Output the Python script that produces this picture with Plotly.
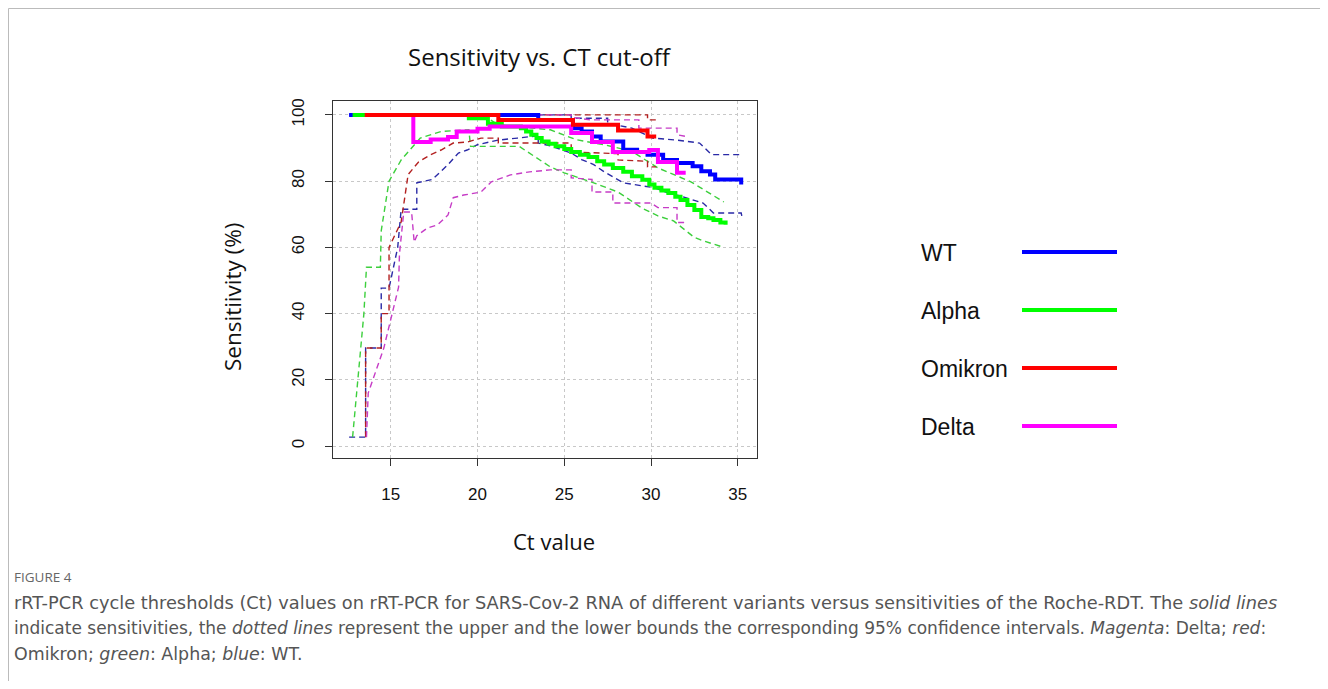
import plotly.graph_objects as go

# ---------------- data ----------------
variants = ["WT", "Alpha", "Omikron", "Delta"]

# Sensitivity step curves (value holds from ct[i] to ct[i+1])
wt_ct = [12.6, 23.5, 25.5, 26.0, 26.6, 27.1, 28.4, 29.2, 29.8, 30.7, 31.5, 32.4, 32.9, 33.4, 33.7, 35.2]
wt_sens = [100, 98.5, 96, 95, 93.5, 92, 89.5, 88.8, 88, 86.4, 85.5, 84.5, 83, 82, 80.5, 79]

alpha_ct = [12.8, 19.5, 20.6, 21.4, 22.5, 22.8, 23.1, 23.4, 23.7, 24.1, 24.5, 25.0, 25.4, 25.9, 26.4,
            26.9, 27.3, 27.8, 28.4, 28.9, 29.5, 29.9, 30.2, 30.6, 31.0, 31.4, 31.7, 32.1, 32.5, 32.9,
            33.3, 33.6, 34.0, 34.3]
alpha_sens = [100, 99, 97.3, 96.5, 96, 95, 94, 93, 92, 91.3, 90.5, 89.7, 88.8, 88, 87.3,
              86, 85, 84, 82.8, 81.5, 80.4, 79, 78, 77.2, 76.4, 75.3, 74.3, 72.8, 71.3, 69.2,
              68.8, 68.3, 67.5, 66.8]

omikron_ct = [13.5, 21.2, 25.5, 28.1, 29.8, 30.3]
omikron_sens = [100, 98.5, 97, 95.3, 93.5, 93.5]

delta_ct = [13.6, 16.3, 17.3, 18.3, 18.8, 20.0, 20.7, 25.4, 26.6, 27.8, 29.9, 30.4, 31.5, 32.0]
delta_sens = [100, 91.8, 92.6, 93.3, 95, 95.8, 96.5, 94.5, 91.8, 88.8, 89.4, 85.8, 82.5, 82.5]

# 95% confidence bounds (polyline points)
wt_lo_ct = [12.6, 13.55, 13.55, 14.45, 14.45, 14.9, 15.4, 15.6, 16.5, 16.5, 17.4, 18.3, 18.9, 19.4, 20.0,
            21.2, 22.3, 23.5, 23.5, 24.3, 25.4, 26.0, 26.7, 27.3, 28.4, 30.2, 31.0, 31.7, 33.0, 33.6,
            35.2, 35.25]
wt_lo = [2.7, 2.7, 29.6, 29.6, 47.7, 47.7, 60, 71.5, 71.5, 79.5, 80.5, 85, 88.5, 89.4, 91,
         92.4, 93, 93.7, 91.5, 90.5, 88.5, 86.5, 85, 82.8, 79.5, 78, 76.4, 75.5, 73.4, 70.4,
         70.4, 69]
wt_hi_ct = [12.6, 25.4, 25.4, 27.5, 27.5, 28.9, 29.5, 30.1, 31.5, 32.8, 33.5, 35.2]
wt_hi = [100, 100, 99, 99, 97.5, 96, 94.5, 93, 92.4, 91.5, 88, 88]

alpha_lo_ct = [12.8, 13.45, 13.6, 14.4, 14.45, 14.9, 15.6, 16.7, 17.9, 19.5, 19.6, 22.4, 24.2, 25.0,
               26.7, 28.1, 29.5, 30.4, 31.3, 32.5, 33.0, 34.2]
alpha_lo = [2.7, 40, 54, 54, 65, 80, 86.4, 93, 95, 95.5, 90.5, 90.5, 84.3, 82.5,
            79.5, 76.7, 71.8, 69.5, 68, 63, 62, 60]
alpha_hi_ct = [12.8, 19.5, 19.6, 20.6, 21.2, 24.2, 25.7, 27.3, 28.9, 30.4, 32.3, 34.2]
alpha_hi = [100, 100, 99.3, 99, 97, 95.5, 92.5, 91, 89, 84, 79.8, 73.7]

omikron_lo_ct = [13.55, 13.55, 14.45, 14.45, 14.9, 14.9, 15.6, 16.0, 16.6, 17.3, 17.9, 18.6, 19.4, 20.2,
                 21.2, 21.2, 25.4, 25.4, 28.1, 28.1, 29.8, 29.8, 30.3]
omikron_lo = [2.7, 29.6, 29.6, 40, 40, 60, 67.7, 82, 85.8, 88, 89.4, 91.5, 91.8, 93,
              93, 91.5, 91.5, 88.8, 88.3, 86.4, 86, 84.3, 84.3]
omikron_hi_ct = [13.5, 29.8, 29.8, 30.3]
omikron_hi = [100, 100, 98.5, 98.5]

delta_lo_ct = [13.6, 13.7, 14.6, 15.1, 15.45, 15.5, 15.75, 16.2, 16.35, 16.5, 17.1, 17.7, 18.3, 18.6,
               19.2, 20.2, 20.8, 21.9, 23.0, 24.2, 25.4, 25.4, 26.6, 26.6, 27.8, 27.8, 30.0, 30.4,
               31.5, 31.5, 32.0]
delta_lo = [2.7, 16, 29.6, 40, 48, 58, 70.7, 70.7, 61.6, 63.5, 65.8, 66.8, 69.8, 75,
            75.8, 76.7, 79.8, 81.9, 82.8, 83.4, 83.4, 81, 80.5, 76.7, 76.7, 73.4, 73.4, 72,
            72, 67.5, 67.5]
delta_hi_ct = [13.6, 25.4, 25.4, 26.5, 29.3, 29.3, 31.5, 31.5, 32.0]
delta_hi = [100, 100, 99.3, 98.5, 98.5, 96, 96, 94, 93.5]

x_ticks = [15, 20, 25, 30, 35]
y_ticks = [0, 20, 40, 60, 80, 100]

# ---------------- styling ----------------
solid_col = {"WT": "#0000ff", "Alpha": "#00ff00", "Omikron": "#ff0000", "Delta": "#ff00ff"}
dash_col = {"WT": "#2a2aa6", "Alpha": "#3ccf3c", "Omikron": "#b32020", "Delta": "#c63cc6"}

series = {
    "WT": (wt_ct, wt_sens, wt_lo_ct, wt_lo, wt_hi_ct, wt_hi),
    "Alpha": (alpha_ct, alpha_sens, alpha_lo_ct, alpha_lo, alpha_hi_ct, alpha_hi),
    "Omikron": (omikron_ct, omikron_sens, omikron_lo_ct, omikron_lo, omikron_hi_ct, omikron_hi),
    "Delta": (delta_ct, delta_sens, delta_lo_ct, delta_lo, delta_hi_ct, delta_hi),
}

W, H = 1328, 689          # browser window
OFF = 8                   # default page body margin
FW, FH = W - 2 * OFF, H - 2 * OFF
PL, PR, PT, PB = 333, 757, 101, 458  # plot box in page pixels


def px(xp):
    return (xp - PL) / (PR - PL)


def py(yp):
    return (PB - yp) / (PB - PT)


fig = go.Figure()

# dashed confidence bounds
for name in ["WT", "Alpha", "Omikron", "Delta"]:
    _, _, lc, lv, hc, hv = series[name]
    for cx, cy, part in [(lc, lv, "lower"), (hc, hv, "upper")]:
        fig.add_trace(go.Scatter(
            x=cx, y=cy, mode="lines", name=f"{name} 95% CI {part}",
            line=dict(color=dash_col[name], width=1.4, dash="6px,4px"),
            showlegend=False, hoverinfo="skip"))

# solid sensitivity lines (draw order: WT, Alpha, Delta, Omikron)
for name in ["WT", "Alpha", "Delta", "Omikron"]:
    sc, sv = series[name][0], series[name][1]
    fig.add_trace(go.Scatter(
        x=sc, y=sv, mode="lines", name=name, line_shape="hv",
        line=dict(color=solid_col[name], width=4), showlegend=False))

shapes = []
annotations = []

# custom legend on the right: label text, then line sample
leg_y = [253, 311, 369, 427]
for name, yy in zip(variants, leg_y):
    annotations.append(dict(
        text=name, x=px(919), y=py(yy), xref="paper", yref="paper",
        xanchor="left", yanchor="middle", showarrow=False,
        font=dict(family="Liberation Sans, Arial, sans-serif", size=23, color="#111")))
    shapes.append(dict(type="line", xref="paper", yref="paper",
                       x0=px(1022), x1=px(1117), y0=py(yy - 1), y1=py(yy - 1),
                       line=dict(color=solid_col[name], width=4)))

# title
annotations.append(dict(
    text="Sensitivity vs. CT cut-off", x=px(540), y=py(56), xref="paper", yref="paper",
    xanchor="center", yanchor="middle", showarrow=False,
    font=dict(family="Open Sans, sans-serif", size=24, color="#111")))

# axis titles (placed as in the reference, slightly off-centre)
annotations.append(dict(
    text="Sensitiivity (%)", x=px(232), y=py(297), xref="paper", yref="paper",
    xanchor="center", yanchor="middle", showarrow=False, textangle=-90,
    font=dict(family="Open Sans, sans-serif", size=22.5, color="#111")))
annotations.append(dict(
    text="Ct value", x=px(554), y=py(541), xref="paper", yref="paper",
    xanchor="center", yanchor="middle", showarrow=False,
    font=dict(family="Open Sans, sans-serif", size=22, color="#111")))

# caption
annotations.append(dict(
    text="FIGURE 4", x=px(12), y=py(577), xref="paper", yref="paper",
    xanchor="left", yanchor="middle", showarrow=False,
    font=dict(family="Open Sans, sans-serif", size=13.5, color="#666")))
cap_lines = [
    "rRT-PCR cycle thresholds (Ct) values on rRT-PCR for SARS-Cov-2 RNA of different variants versus "
    "sensitivities of the Roche-RDT. The <i>solid lines</i>",
    "indicate sensitivities, the <i>dotted lines</i> represent the upper and the lower bounds the "
    "corresponding 95% confidence intervals. <i>Magenta</i>: Delta; <i>red</i>:",
    "Omikron; <i>green</i>: Alpha; <i>blue</i>: WT.",
]
cap_sizes = [17.8, 17.0, 17.4]
for line, yy, fs in zip(cap_lines, [602, 628, 654], cap_sizes):
    annotations.append(dict(
        text=line, x=px(12), y=py(yy), xref="paper", yref="paper",
        xanchor="left", yanchor="middle", showarrow=False,
        font=dict(family="DejaVu Sans, sans-serif", size=fs, color="#555")))

# page frame (top and left rules)
shapes.append(dict(type="line", xref="paper", yref="paper", x0=px(OFF + 0.5), x1=px(W),
                   y0=py(OFF + 0.5), y1=py(OFF + 0.5), line=dict(color="#bbbbbb", width=1)))
shapes.append(dict(type="line", xref="paper", yref="paper", x0=px(OFF + 0.5), x1=px(OFF + 0.5),
                   y0=py(OFF + 0.5), y1=py(H), line=dict(color="#bbbbbb", width=1)))

tick_font = dict(family="Liberation Sans, Arial, sans-serif", size=17, color="#111")

fig.update_layout(
    width=FW, height=FH,
    margin=dict(l=PL - OFF, r=FW - (PR - OFF), t=PT - OFF, b=FH - (PB - OFF), pad=0),
    paper_bgcolor="white", plot_bgcolor="white",
    showlegend=False,
    shapes=shapes, annotations=annotations,
    xaxis=dict(
        range=[11.67, 36.11], tickvals=x_ticks, ticktext=[str(v) for v in x_ticks],
        showgrid=True, gridcolor="#c8c8c8", griddash="dot", gridwidth=1,
        zeroline=False, showline=True, mirror=True, linecolor="#333", linewidth=1,
        ticks="outside", ticklen=7, tickcolor="#333", tickfont=tick_font,
        ticklabelstandoff=14,
    ),
    yaxis=dict(
        range=[-3.6, 104.2], tickvals=y_ticks, ticktext=[str(v) for v in y_ticks],
        showgrid=True, gridcolor="#c8c8c8", griddash="dot", gridwidth=1,
        zeroline=False, showline=True, mirror=True, linecolor="#333", linewidth=1,
        ticks="outside", ticklen=7, tickcolor="#333", tickfont=tick_font, tickangle=-90,
        ticklabelstandoff=14,
    ),
)

fig.write_html("out.html")
